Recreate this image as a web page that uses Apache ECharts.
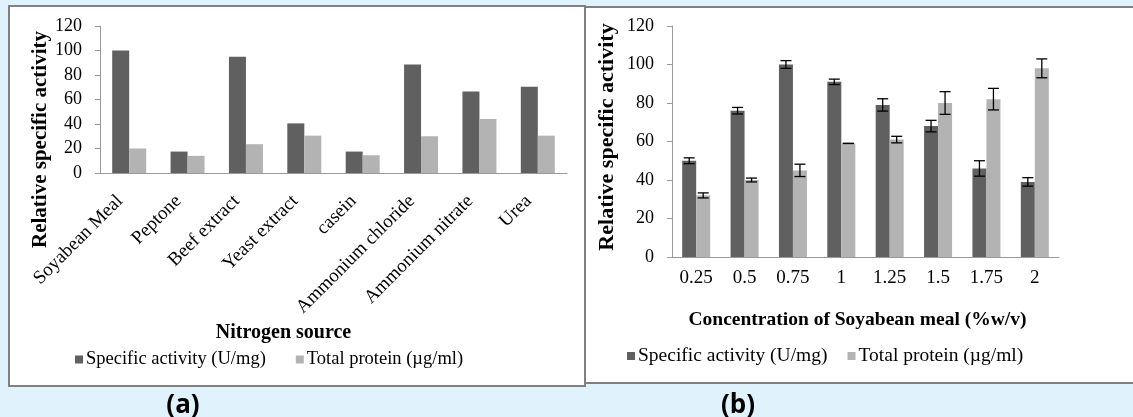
<!DOCTYPE html>
<html>
<head>
<meta charset="utf-8">
<title>Nitrogen source / Soyabean meal</title>
<script src="https://cdn.jsdelivr.net/npm/echarts@6/dist/echarts.min.js"></script>
<style>
    body { margin: 0; background: #e0f2fc; }
    .panneau { position: absolute; background: #fff; box-sizing: border-box; border: 2px solid #808080; }
    #panneau-a { left: 8px; top: 5px; width: 578px; height: 382px; }
    #panneau-b { left: 586px; top: 6px; width: 547px; height: 378px; border-left: none; border-right: none; }
    #chart { position: absolute; left: 0; top: 0; width: 1133px; height: 417px; }
</style>
</head>
<body>
<div class="panneau" id="panneau-a"></div>
<div class="panneau" id="panneau-b"></div>
<div id="chart"></div>
<script>
// === DONNEES ===
// (a) sources d'azote
const sourcesAzote = ["Soyabean Meal", "Peptone", "Beef extract", "Yeast extract", "casein", "Ammonium chloride", "Ammonium nitrate", "Urea"];
const activiteA = [100, 17.5, 95, 40.5, 17.5, 88.5, 66.5, 70.5];
const proteineA = [20, 14, 23.5, 30.5, 14.5, 30, 44, 30.5];

// (b) concentration de farine de soja
const concentrations = ["0.25", "0.5", "0.75", "1", "1.25", "1.5", "1.75", "2"];
const activiteB = [50, 76, 100, 91, 79, 68, 46, 39];
const erreurActiviteB = [1.5, 1.7, 2, 1.4, 3.2, 3, 4, 2.2];
const proteineB = [32, 40, 45, 59, 61, 80, 82, 98];
const erreurProteineB = [1.3, 1, 3.2, 0, 1.7, 5.9, 5.6, 4.9];

const ticksY = [0, 20, 40, 60, 80, 100, 120];

const NOM_ACTIVITE = "Specific activity (U/mg)";
const NOM_PROTEINE = "Total protein (µg/ml)";
const SERIF = "Liberation Serif";
const GRIS_FONCE = "#606060";
const GRIS_CLAIR = "#b3b3b3";
const GRIS_AXE = "#9a9a9a";

// Barres d'erreur (trait vertical + deux chapeaux)
function renderErreur(decalage) {
    return function (params, api) {
        const idx = api.value(0);
        const haut = api.coord([idx, api.value(1) + api.value(2)]);
        const bas = api.coord([idx, api.value(1) - api.value(2)]);
        const x = haut[0] + decalage;
        const demi = 5.5;
        const style = { stroke: "#000", lineWidth: 1.3 };
        return {
            type: "group",
            children: [
                { type: "line", shape: { x1: x, y1: haut[1], x2: x, y2: bas[1] }, style },
                { type: "line", shape: { x1: x - demi, y1: haut[1], x2: x + demi, y2: haut[1] }, style },
                { type: "line", shape: { x1: x - demi, y1: bas[1], x2: x + demi, y2: bas[1] }, style }
            ]
        };
    };
}

function axeY(nameGap, tailleNom, paddingNom) {
    return {
        type: "value",
        min: ticksY[0],
        max: ticksY[ticksY.length - 1],
        interval: 20,
        name: "Relative specific activity",
        nameLocation: "middle",
        nameGap: nameGap,
        nameTextStyle: { fontFamily: SERIF, fontWeight: "bold", fontSize: tailleNom, color: "#000", padding: paddingNom },
        axisLine: { show: true, lineStyle: { color: GRIS_AXE } },
        axisTick: { show: true, length: 5, lineStyle: { color: GRIS_AXE } },
        axisLabel: { fontFamily: SERIF, fontSize: 18, color: "#000", margin: 18 },
        splitLine: { show: false }
    };
}

function legende(left, top, gap, taille) {
    return {
        left: left,
        top: top,
        itemGap: gap,
        data: [NOM_ACTIVITE, NOM_PROTEINE],
        icon: "rect",
        itemWidth: 8,
        itemHeight: 8,
        textStyle: { fontFamily: SERIF, fontSize: taille, color: "#000", padding: [0, 0, 0, -2] }
    };
}

// === INITIALISATION ===
document.addEventListener("DOMContentLoaded", () => {
    const chart = echarts.init(document.getElementById("chart"));
    const option = {
        backgroundColor: "transparent",
        animation: false,
        grid: [
            { left: 100, right: 566, top: 26, bottom: 244 },
            { left: 672, right: 74, top: 26, bottom: 160 }
        ],
        xAxis: [
            {
                gridIndex: 0,
                type: "category",
                data: sourcesAzote,
                name: "Nitrogen source",
                nameLocation: "middle",
                nameGap: 150,
                nameTextStyle: { fontFamily: SERIF, fontWeight: "bold", fontSize: 20, color: "#000", padding: [0, 100, 0, 0] },
                axisLine: { lineStyle: { color: GRIS_AXE } },
                axisTick: { length: 5, lineStyle: { color: GRIS_AXE } },
                axisLabel: { rotate: 45, fontFamily: SERIF, fontSize: 19, color: "#000", margin: 16, padding: [0, 13, 0, 0], interval: 0 }
            },
            {
                gridIndex: 1,
                type: "category",
                data: concentrations,
                name: "Concentration of Soyabean meal (%w/v)",
                nameLocation: "middle",
                nameGap: 53,
                nameTextStyle: { fontFamily: SERIF, fontWeight: "bold", fontSize: 19.5, color: "#000", padding: [0, 16, 0, 0] },
                axisLine: { lineStyle: { color: GRIS_AXE } },
                axisTick: { length: 5, lineStyle: { color: GRIS_AXE } },
                axisLabel: { fontFamily: SERIF, fontSize: 19, color: "#000", margin: 12, interval: 0 }
            }
        ],
        yAxis: [
            Object.assign({ gridIndex: 0 }, axeY(49, 21, [0, 80, 0, 0])),
            Object.assign({ gridIndex: 1 }, axeY(54, 22, [0, 0, 0, 9]))
        ],
        legend: [
            legende(70, 345, 30, 18.5),
            legende(622, 341, 20, 19.5)
        ],
        series: [
            { name: NOM_ACTIVITE, type: "bar", xAxisIndex: 0, yAxisIndex: 0, data: activiteA, barWidth: 17, barGap: "0%", itemStyle: { color: GRIS_FONCE } },
            { name: NOM_PROTEINE, type: "bar", xAxisIndex: 0, yAxisIndex: 0, data: proteineA, barWidth: 17, barGap: "0%", itemStyle: { color: GRIS_CLAIR } },
            { name: NOM_ACTIVITE, type: "bar", xAxisIndex: 1, yAxisIndex: 1, data: activiteB, barWidth: 14, barGap: "0%", itemStyle: { color: GRIS_FONCE } },
            { name: NOM_PROTEINE, type: "bar", xAxisIndex: 1, yAxisIndex: 1, data: proteineB, barWidth: 14, barGap: "0%", itemStyle: { color: GRIS_CLAIR } },
            {
                type: "custom", xAxisIndex: 1, yAxisIndex: 1, z: 5,
                renderItem: renderErreur(-7),
                encode: { x: 0, y: 1 },
                data: activiteB.map((v, i) => [i, v, erreurActiviteB[i]])
            },
            {
                type: "custom", xAxisIndex: 1, yAxisIndex: 1, z: 5,
                renderItem: renderErreur(7),
                encode: { x: 0, y: 1 },
                data: proteineB.map((v, i) => [i, v, erreurProteineB[i]])
            }
        ],
        graphic: [
            { type: "text", x: 183, y: 393, style: { text: "(a)", font: "bold 26px 'Open Sans'", fill: "#000", align: "center", verticalAlign: "top" } },
            { type: "text", x: 738, y: 393, style: { text: "(b)", font: "bold 26px 'Open Sans'", fill: "#000", align: "center", verticalAlign: "top" } }
        ]
    };
    chart.setOption(option);
});
</script>
</body>
</html>
